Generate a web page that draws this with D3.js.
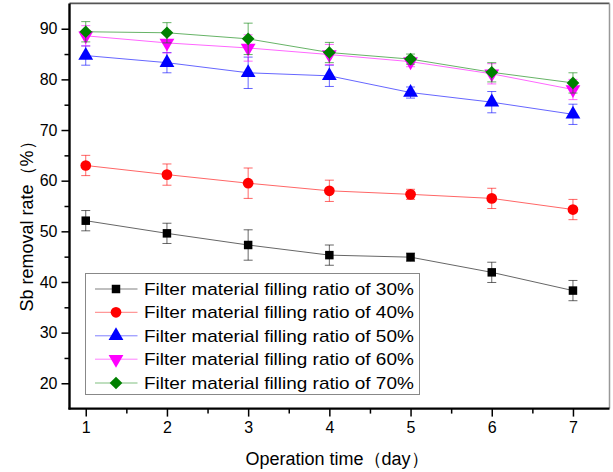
<!DOCTYPE html>
<html>
<head>
<meta charset="utf-8">
<script src="https://cdn.jsdelivr.net/npm/d3@7"></script>
<style>
  html, body { margin: 0; padding: 0; background: #fff; }
  svg { display: block; font-family: "Liberation Sans", Arial, sans-serif; }
</style>
</head>
<body>
<svg id="chart" width="613" height="472"></svg>
<script>
// ---- data ----
const days = [1, 2, 3, 4, 5, 6, 7];
const seriesNames = [
  "Filter material filling ratio of 30%",
  "Filter material filling ratio of 40%",
  "Filter material filling ratio of 50%",
  "Filter material filling ratio of 60%",
  "Filter material filling ratio of 70%"
];
const ratio30 = [52.1, 49.6, 47.3, 45.3, 44.9, 41.9, 38.3];
const ratio40 = [63.0, 61.2, 59.5, 58.0, 57.3, 56.5, 54.3];
const ratio50 = [84.7, 83.3, 81.3, 80.7, 77.4, 75.5, 73.1];
const ratio60 = [88.6, 87.2, 86.2, 84.9, 83.5, 81.1, 78.0];
const ratio70 = [89.4, 89.2, 88.0, 85.3, 84.0, 81.4, 79.3];
const err30 = [2.0, 2.0, 3.0, 2.0, 0.8, 2.0, 2.0];
const err40 = [2.0, 2.1, 3.0, 2.1, 1.0, 2.0, 2.0];
const err50 = [1.9, 2.0, 3.1, 2.1, 1.1, 2.1, 2.0];
const err60 = [2.0, 2.0, 2.6, 2.0, 1.0, 2.0, 2.0];
const err70 = [2.0, 2.0, 3.1, 2.0, 1.0, 1.9, 2.0];
const xTicks = [1, 2, 3, 4, 5, 6, 7];
const yTicks = [20, 30, 40, 50, 60, 70, 80, 90];
const xTitle = "Operation time（day）";
const yTitle = "Sb removal rate（%）";

const seriesValues = [ratio30, ratio40, ratio50, ratio60, ratio70];
const seriesErrors = [err30, err40, err50, err60, err70];
const colors = ["#000000", "#ff0000", "#0000ff", "#ff00ff", "#008000"];
const symbols = ["square", "circle", "up", "down", "diamond"];

// ---- layout ----
const svg = d3.select("#chart");
const x = d3.scaleLinear().domain([0.8, 7.45]).range([69.5, 609.5]);
const y = d3.scaleLinear().domain([15, 95]).range([408.6, 3.4]);

// frame top/right
svg.append("line").attr("x1", x(0.8)).attr("x2", x(7.45)).attr("y1", y(95)).attr("y2", y(95))
  .attr("stroke", "#555").attr("stroke-width", 1.8);
svg.append("line").attr("x1", x(7.45)).attr("x2", x(7.45)).attr("y1", y(95)).attr("y2", y(15))
  .attr("stroke", "#999").attr("stroke-width", 1.5);

// axes
const xAxis = d3.axisBottom(x).tickValues(xTicks).tickFormat(d3.format("d")).tickSize(8).tickPadding(5);
const xMinor = d3.axisBottom(x).tickValues([1.5, 2.5, 3.5, 4.5, 5.5, 6.5]).tickFormat("").tickSize(5);
const yAxis = d3.axisLeft(y).tickValues(yTicks).tickFormat(d3.format("d")).tickSize(8).tickPadding(4);
const yMinor = d3.axisLeft(y).tickValues([25, 35, 45, 55, 65, 75, 85]).tickFormat("").tickSize(5);

function styleAxis(g) {
  g.select(".domain").remove();
  g.selectAll(".tick line").attr("stroke", "#000").attr("stroke-width", 1.5);
  g.selectAll(".tick text").attr("fill", "#000").style("font-size", "16px")
    .style("font-family", "'Liberation Sans', Arial, sans-serif");
}
svg.append("g").attr("transform", `translate(0,${y(15)})`).call(xAxis).call(styleAxis);
svg.append("g").attr("transform", `translate(0,${y(15)})`).call(xMinor).call(styleAxis);
svg.append("g").attr("transform", `translate(${x(0.8)},0)`).call(yAxis).call(styleAxis);
svg.append("g").attr("transform", `translate(${x(0.8)},0)`).call(yMinor).call(styleAxis);

svg.append("line").attr("x1", x(0.8)).attr("x2", x(0.8)).attr("y1", y(95)).attr("y2", y(15) + 1)
  .attr("stroke", "#000").attr("stroke-width", 2.4);
svg.append("line").attr("x1", x(0.8) - 1).attr("x2", x(7.45)).attr("y1", y(15)).attr("y2", y(15))
  .attr("stroke", "#000").attr("stroke-width", 2.4);

// titles
svg.append("text").attr("x", 337).attr("y", 465).attr("text-anchor", "middle")
  .style("font-size", "18px").text(xTitle);
svg.append("text").attr("transform", "translate(33,222) rotate(-90)").attr("text-anchor", "middle")
  .style("font-size", "18px").text(yTitle);

function symbolPath(i) {
  switch (symbols[i]) {
    case "square": return d3.symbol().type(d3.symbolSquare).size(72)();
    case "circle": return d3.symbol().type(d3.symbolCircle).size(90)();
    case "up":
    case "down": return d3.symbol().type(d3.symbolTriangle).size(95)();
    case "diamond": return d3.symbol().type(d3.symbolSquare).size(80)();
  }
}
function symbolTransform(i, px, py) {
  if (symbols[i] === "down") return `translate(${px},${py}) rotate(180)`;
  if (symbols[i] === "diamond") return `translate(${px},${py}) rotate(45)`;
  return `translate(${px},${py})`;
}

// series
const line = d3.line().x((d, j) => x(days[j])).y(d => y(d));
seriesValues.forEach((vals, i) => {
  const g = svg.append("g");
  g.append("path").datum(vals).attr("d", line).attr("fill", "none")
    .attr("stroke", colors[i]).attr("stroke-width", 1).attr("stroke-opacity", 0.6);
  vals.forEach((v, j) => {
    const e = seriesErrors[i][j];
    const cx = x(days[j]);
    const eg = g.append("g").attr("stroke", colors[i]).attr("stroke-width", 1).attr("stroke-opacity", 0.6);
    eg.append("line").attr("x1", cx).attr("x2", cx).attr("y1", y(v - e)).attr("y2", y(v + e));
    eg.append("line").attr("x1", cx - 4.5).attr("x2", cx + 4.5).attr("y1", y(v - e)).attr("y2", y(v - e));
    eg.append("line").attr("x1", cx - 4.5).attr("x2", cx + 4.5).attr("y1", y(v + e)).attr("y2", y(v + e));
  });
  g.selectAll("path.mk").data(vals).join("path").attr("class", "mk")
    .attr("d", symbolPath(i))
    .attr("transform", (d, j) => symbolTransform(i, x(days[j]), y(d)))
    .attr("fill", colors[i]);
});

// legend
const lg = svg.append("g");
lg.append("rect").attr("x", 85.5).attr("y", 273.5).attr("width", 334).attr("height", 121)
  .attr("fill", "#fff").attr("stroke", "#888").attr("stroke-width", 1);
const rowY = [289, 312.3, 335.8, 359.2, 383];
seriesNames.forEach((name, i) => {
  const yy = rowY[i];
  lg.append("line").attr("x1", 95).attr("x2", 137.5).attr("y1", yy).attr("y2", yy)
    .attr("stroke", colors[i]).attr("stroke-width", 1).attr("stroke-opacity", 0.5);
  lg.append("path").attr("d", symbolPath(i)).attr("transform", symbolTransform(i, 116, yy)).attr("fill", colors[i]);
  lg.append("text").attr("transform", `translate(144,${yy}) scale(1.13,1)`).attr("dy", "0.36em")
    .style("font-size", "16.8px").attr("fill", "#000").text(name);
});
</script>
</body>
</html>
